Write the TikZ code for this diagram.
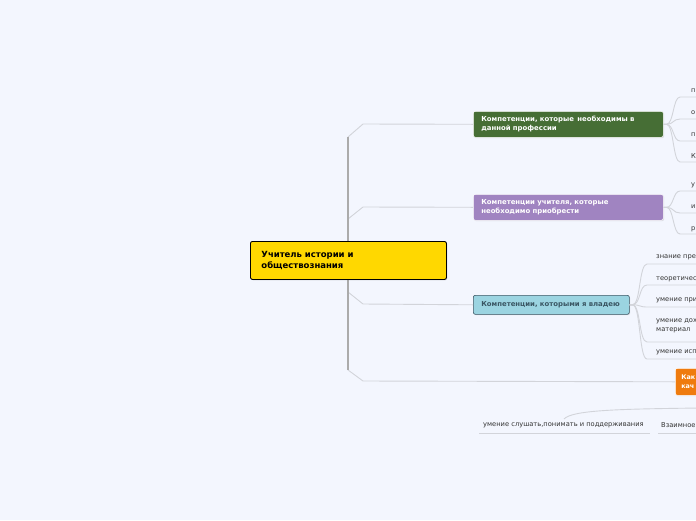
\documentclass[tikz,border=0pt]{standalone}
\usepackage{fontspec}
\setmainfont{DejaVu Sans}
\usetikzlibrary{shadows}
\definecolor{bg}{HTML}{F3F6FE}
\definecolor{rootc}{HTML}{FFD800}
\definecolor{greenc}{HTML}{466E35}
\definecolor{purplec}{HTML}{A084C1}
\definecolor{bluec}{HTML}{9BD4E1}
\definecolor{bluebd}{HTML}{3A5663}
\definecolor{orangec}{HTML}{EF7B0E}
\definecolor{trunkc}{HTML}{ABABAB}
\definecolor{linec}{HTML}{D2D4DA}
\definecolor{txtc}{HTML}{333333}
\tikzset{
  boxbase/.style={anchor=north west, rounded corners=2pt, align=left, inner ysep=0pt,
    drop shadow={shadow xshift=0.8pt, shadow yshift=-0.8pt, opacity=0.25}},
  rootbox/.style={boxbase, fill=rootc, draw=black, line width=0.9pt, inner xsep=11pt,
    font=\fontsize{8.5}{11}\selectfont\bfseries},
  colbox/.style={boxbase, draw=white, line width=0.6pt, inner xsep=8pt, text=white,
    font=\fontsize{6.9}{9}\selectfont\bfseries},
  childtxt/.style={anchor=west, inner sep=0pt, text=txtc, align=left,
    font=\fontsize{6.7}{8.5}\selectfont},
  trunk/.style={draw=trunkc, line width=1.8pt},
  conn/.style={draw=linec, line width=0.9pt},
}
\begin{document}
\begin{tikzpicture}[x=1pt,y=-1pt]
\fill[bg] (0,0) rectangle (696,520);
\useasboundingbox (0,0) rectangle (696,520);
\clip (0,0) rectangle (696,520);

% trunk coordinates
\coordinate (t1) at (348,137);
\coordinate (t2) at (348,219);
\coordinate (t3) at (348,292);
\coordinate (t4) at (348,370);

% boxes
\node[colbox, fill=greenc, minimum height=26pt, text width=174pt] (b1) at (473,111)
  {Компетенции, которые \,необходимы в\\данной профессии};
\node[colbox, fill=purplec, minimum height=26pt, text width=174pt] (b2) at (473,194)
  {Компетенции учителя, которые\\необходимо приобрести};
\node[colbox, fill=bluec, draw=bluebd, text=bluebd, minimum height=19pt, text width=140pt] (b3) at (473,295)
  {Компетенции, которыми я владею};
\node[colbox, fill=orangec, minimum height=27pt, text width=50pt, inner xsep=6pt,
  font=\fontsize{6.4}{9}\selectfont\bfseries] (b4) at (675,368)
  {Как\\кач};

% branch connectors
\draw[conn] (t1) -- (363,124) -- (b1.west);
\draw[conn] (t2) -- (363,207) -- (b2.west);
\draw[conn] (t3) -- (363,304) -- (b3.west);
\draw[conn] (t4) -- (363,381) -- (b4.west);
\draw[trunk] (t1) -- (t4);

% root
\node[rootbox, minimum height=38pt, text width=174pt] (root) at (250,241)
  {Учитель истории и\\обществознания};

% children of b1
\foreach \n/\y/\ty/\t in {a/97/91/п, b/119/113/о, c/141/135/п, d/162/156/К}{
  \coordinate (c1\n) at (680,\y);
  \node[childtxt] (l1\n) at (691,\ty) {\t};
  \draw[conn] (b1.east) -- ++(3,0) .. controls +(7,0) and +(-7,0) .. (c1\n) -- ++(20,0);
}
% children of b2
\foreach \n/\y/\ty/\t in {a/191/185/у, b/213/207/и, c/234/229/р}{
  \coordinate (c2\n) at (680,\y);
  \node[childtxt] (l2\n) at (691,\ty) {\t};
  \draw[conn] (b2.east) -- ++(3,0) .. controls +(7,0) and +(-7,0) .. (c2\n) -- ++(20,0);
}
% children of b3
\foreach \n/\y/\ty/\t in {a/264/257.5/знание пре, b/285/279/теоретичес, c/307/300.5/умение при, e/359/352.5/умение исп}{
  \coordinate (c3\n) at (647,\y);
  \node[childtxt] (l3\n) at (656,\ty) {\t};
  \draw[conn] (b3.east) -- ++(3,0) .. controls +(8,0) and +(-8,0) .. (c3\n) -- ++(60,0);
}
\coordinate (c3d) at (647,342);
\node[childtxt] (l3d) at (656,326) {умение дох\\материал};
\draw[conn] (b3.east) -- ++(3,0) .. controls +(8,0) and +(-8,0) .. (c3d) -- ++(60,0);

% children of b4
\coordinate (c4a) at (479,433);
\coordinate (c4ae) at (650,433);
\node[childtxt] (l4a) at (483,425.5) {умение слушать,понимать и поддерживания};
\coordinate (c4b) at (658,433);
\coordinate (c4be) at (700,433);
\node[childtxt] (l4b) at (661,425.5) {Взаимное};
\draw[conn] (c4a) -- (c4ae);
\draw[conn] (c4b) -- (c4be);
\coordinate (c4top) at (564,419);
\coordinate (c4src) at (700,408);
\draw[conn] (c4top) .. controls (572,410) and (620,409) .. (c4src);
\end{tikzpicture}
\end{document}
